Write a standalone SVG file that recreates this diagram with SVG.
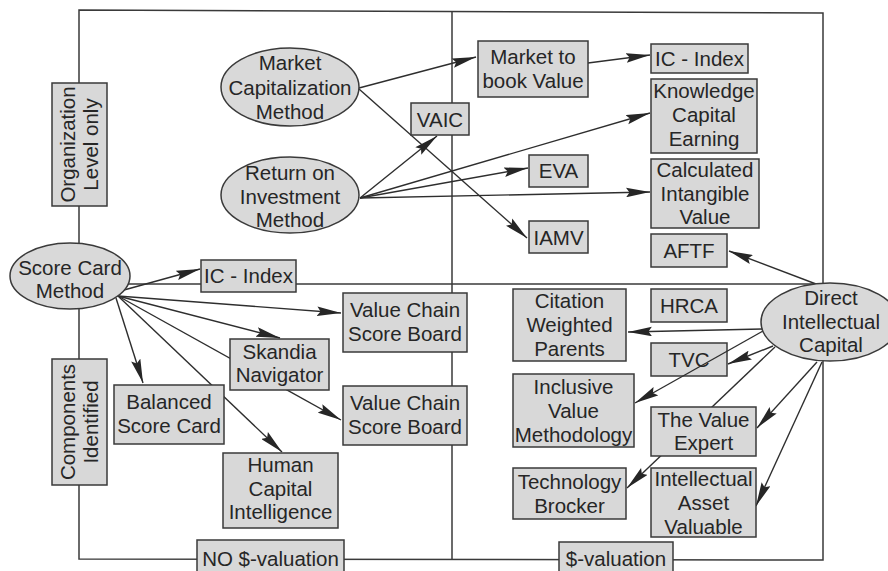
<svg xmlns="http://www.w3.org/2000/svg" width="888" height="571" viewBox="0 0 888 571">
  <style>
    .box { fill: #d8d8d8; stroke: #3a3a3a; stroke-width: 1.5; }
    .ell { fill: #d9d9d9; stroke: #3a3a3a; stroke-width: 1.5; }
    .frame { fill: none; stroke: #3a3a3a; stroke-width: 1.5; }
    text { font-family: "Liberation Sans", Arial, sans-serif; font-size: 20.5px; fill: #262626; text-anchor: middle; }
    #connectors line { stroke: #2e2e2e; stroke-width: 1.4; marker-end: url(#arr); }
  </style>
  <defs>
    <marker id="arr" markerUnits="userSpaceOnUse" viewBox="0 0 24 10" markerWidth="24" markerHeight="10" refX="24" refY="5" orient="auto">
      <path d="M0,0.2 L24,5 L0,9.8 L3.5,5 Z" fill="#262626"/>
    </marker>
  </defs>
  <rect width="888" height="571" fill="#fff"/>

  <!-- quadrant frame and dividers -->
  <g id="frame">
    <path class="frame" d="M79,10 L823,13 L823,560 L79,559 Z"/>
    <line class="frame" x1="452" y1="11" x2="452" y2="559"/>
    <line class="frame" x1="126" y1="284" x2="823" y2="284"/>
  </g>

  <!-- TVC sits under the Inclusive Value line -->
  <g id="tvc"><rect class="box" x="651" y="343" width="76" height="33"/><text x="689" y="367">TVC</text></g>

  <g id="connectors">
    <line x1="359" y1="88" x2="476" y2="57"/>
    <line x1="588" y1="63" x2="650" y2="55"/>
    <line x1="359" y1="89" x2="527" y2="238"/>
    <line x1="360" y1="198" x2="437" y2="136"/>
    <line x1="360" y1="198" x2="528" y2="168"/>
    <line x1="360" y1="198" x2="650" y2="113"/>
    <line x1="360" y1="198" x2="650" y2="192"/>
    <line x1="816" y1="284" x2="729" y2="251"/>
    <line x1="762" y1="329" x2="628" y2="332"/>
    <line x1="773" y1="346" x2="728" y2="364"/>
    <line x1="763" y1="331" x2="635" y2="403"/>
    <line x1="775" y1="347" x2="627" y2="488"/>
    <line x1="817" y1="362" x2="757" y2="428"/>
    <line x1="822" y1="362" x2="756" y2="506"/>
    <line x1="124" y1="290" x2="200" y2="269"/>
    <line x1="118" y1="296" x2="341" y2="313"/>
    <line x1="118" y1="296" x2="280" y2="338"/>
    <line x1="118" y1="296" x2="341" y2="420"/>
    <line x1="118" y1="296" x2="282" y2="452"/>
    <line x1="116" y1="298" x2="143" y2="383"/>
  </g>

  <!-- axis labels -->
  <g id="org-level"><rect class="box" x="52" y="83" width="55" height="123"/>
    <g transform="translate(79.5,144.5) rotate(-90)"><text x="0" y="-5">Organization</text><text x="0" y="18.5">Level only</text></g></g>
  <g id="components"><rect class="box" x="52" y="359" width="55" height="126"/>
    <g transform="translate(79.5,422) rotate(-90)"><text x="0" y="-5">Components</text><text x="0" y="18.5">Identified</text></g></g>
  <g id="no-valuation"><rect class="box" x="197" y="540" width="147" height="40"/><text x="270.5" y="566">NO $-valuation</text></g>
  <g id="valuation"><rect class="box" x="559" y="542" width="114" height="40"/><text x="616" y="566">$-valuation</text></g>

  <!-- method ellipses -->
  <g id="market-cap"><ellipse class="ell" cx="290" cy="87" rx="69" ry="39"/>
    <text x="290" y="70">Market</text><text x="290" y="94.5">Capitalization</text><text x="290" y="119">Method</text></g>
  <g id="roi"><ellipse class="ell" cx="290" cy="195" rx="69" ry="38"/>
    <text x="290" y="180">Return on</text><text x="290" y="203.5">Investment</text><text x="290" y="227">Method</text></g>
  <g id="score-card"><ellipse class="ell" cx="70" cy="276" rx="60" ry="33"/>
    <text x="70" y="275">Score Card</text><text x="70" y="298">Method</text></g>
  <g id="direct-ic"><ellipse class="ell" cx="830" cy="322" rx="69" ry="39"/>
    <text x="831" y="305">Direct</text><text x="831" y="329">Intellectual</text><text x="831" y="352">Capital</text></g>

  <!-- measures -->
  <g id="mtbv"><rect class="box" x="478" y="41" width="110" height="56"/><text x="533" y="64">Market to</text><text x="533" y="87.5">book Value</text></g>
  <g id="ic-index-top"><rect class="box" x="651" y="44" width="97" height="29"/><text x="699.5" y="65.5">IC - Index</text></g>
  <g id="kce"><rect class="box" x="651" y="79" width="106" height="74"/><text x="704" y="97.5">Knowledge</text><text x="704" y="121.5">Capital</text><text x="704" y="145.5">Earning</text></g>
  <g id="civ"><rect class="box" x="651" y="159" width="108" height="69"/><text x="705" y="176.5">Calculated</text><text x="705" y="200.5">Intangible</text><text x="705" y="224">Value</text></g>
  <g id="aftf"><rect class="box" x="651" y="234" width="76" height="33"/><text x="689" y="258">AFTF</text></g>
  <g id="vaic"><rect class="box" x="411" y="103" width="58" height="32"/><text x="440" y="126.5">VAIC</text></g>
  <g id="eva"><rect class="box" x="529" y="155" width="59" height="32"/><text x="558.5" y="178">EVA</text></g>
  <g id="iamv"><rect class="box" x="529" y="221" width="59" height="32"/><text x="558.5" y="245">IAMV</text></g>
  <g id="ic-index-low"><rect class="box" x="201" y="260" width="95" height="32"/><text x="248.5" y="283">IC - Index</text></g>
  <g id="vcsb-1"><rect class="box" x="343" y="293" width="124" height="59"/><text x="405" y="317">Value Chain</text><text x="405" y="340.5">Score Board</text></g>
  <g id="skandia"><rect class="box" x="230" y="339" width="99" height="51"/><text x="279.5" y="358.5">Skandia</text><text x="279.5" y="382">Navigator</text></g>
  <g id="vcsb-2"><rect class="box" x="343" y="386" width="124" height="59"/><text x="405" y="410">Value Chain</text><text x="405" y="433.5">Score Board</text></g>
  <g id="bsc"><rect class="box" x="114" y="385" width="110" height="59"/><text x="169" y="409">Balanced</text><text x="169" y="433">Score Card</text></g>
  <g id="hci"><rect class="box" x="223" y="453" width="115" height="75"/><text x="280.5" y="472">Human</text><text x="280.5" y="496">Capital</text><text x="280.5" y="519">Intelligence</text></g>
  <g id="hrca"><rect class="box" x="651" y="289" width="76" height="33"/><text x="689" y="313">HRCA</text></g>
  <g id="cwp"><rect class="box" x="513" y="289" width="113" height="72"/><text x="569.5" y="308">Citation</text><text x="569.5" y="332">Weighted</text><text x="569.5" y="356">Parents</text></g>
  <g id="ivm"><rect class="box" x="513" y="374" width="121" height="73"/><text x="573.5" y="393.5">Inclusive</text><text x="573.5" y="417.5">Value</text><text x="573.5" y="441.5">Methodology</text></g>
  <g id="value-expert"><rect class="box" x="651" y="407" width="105" height="49"/><text x="703.5" y="426.5">The Value</text><text x="703.5" y="450">Expert</text></g>
  <g id="tech-brocker"><rect class="box" x="513" y="468" width="113" height="51"/><text x="569.5" y="489">Technology</text><text x="569.5" y="512.5">Brocker</text></g>
  <g id="iav"><rect class="box" x="651" y="468" width="105" height="69"/><text x="703.5" y="486">Intellectual</text><text x="703.5" y="510">Asset</text><text x="703.5" y="533.5">Valuable</text></g>
</svg>
